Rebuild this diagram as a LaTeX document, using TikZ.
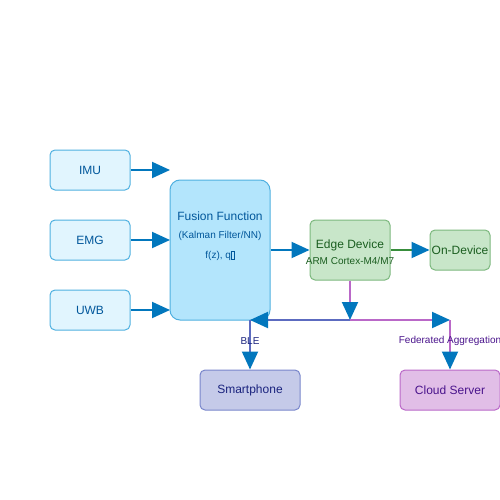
\documentclass[tikz,border=0pt]{standalone}
\usepackage{fontspec}
\setmainfont{Liberation Sans}
\usetikzlibrary{arrows.meta}
\definecolor{arrblue}{HTML}{0277BD}
\definecolor{inFill}{HTML}{E1F5FE}
\definecolor{inDraw}{HTML}{4FB0E0}
\definecolor{inText}{HTML}{01579B}
\definecolor{fuFill}{HTML}{B3E5FC}
\definecolor{edFill}{HTML}{C8E6C9}
\definecolor{edDraw}{HTML}{7CB87E}
\definecolor{edText}{HTML}{1B5E20}
\definecolor{grLine}{HTML}{388E3C}
\definecolor{spFill}{HTML}{C5CAE9}
\definecolor{spDraw}{HTML}{7986CB}
\definecolor{spText}{HTML}{1A237E}
\definecolor{blLine}{HTML}{5C6BC0}
\definecolor{clFill}{HTML}{E1BEE7}
\definecolor{clDraw}{HTML}{BA68C8}
\definecolor{clText}{HTML}{4A148C}
\definecolor{puLine}{HTML}{BA68C8}
\begin{document}
\begin{tikzpicture}[x=1pt,y=-1pt,
  box/.style={draw, rounded corners=5pt, line width=1pt, inner sep=0pt, align=center},
  inbox/.style={box, fill=inFill, draw=inDraw, text=inText, minimum width=80pt, minimum height=40pt, font=\fontsize{12}{14}\selectfont},
  conn/.style={line width=2pt, -{Triangle[length=18pt,width=16pt,color=arrblue]}},
  lbl/.style={font=\fontsize{10}{12}\selectfont, inner sep=0pt}
]
\useasboundingbox (0,0) rectangle (500,500);
\node[inbox] (imu) at (90,170) {IMU};
\node[inbox] (emg) at (90,240) {EMG};
\node[inbox] (uwb) at (90,310) {UWB};
\node[box, fill=fuFill, draw=inDraw, rounded corners=10pt, minimum width=100pt, minimum height=140pt] (fus) at (220,250) {};
\node[text=inText, font=\fontsize{12}{14}\selectfont] (fus1) at (220,216) {Fusion Function};
\node[text=inText, lbl] (fus2) at (220,236) {(Kalman Filter/NN)};
\node[text=inText, lbl] (fus3) at (220,256) {f(z), q{\setlength\fboxsep{0pt}\setlength\fboxrule{0.3pt}\fbox{\rule{0pt}{7pt}\hspace{3pt}}}};
\coordinate (a1) at (170,170);
\coordinate (a2) at (170,240);
\coordinate (a3) at (170,310);
\node[box, fill=edFill, draw=edDraw, minimum width=80pt, minimum height=60pt] (edge) at (350,250) {};
\node[text=edText, font=\fontsize{12}{14}\selectfont] (ed1) at (350,245) {Edge Device};
\node[text=edText, lbl] (ed2) at (350,261) {ARM Cortex-M4/M7};
\node[box, fill=edFill, draw=edDraw, text=edText, minimum width=60pt, minimum height=40pt, font=\fontsize{12}{14}\selectfont] (ond) at (460,250) {On-Device};
\node[box, fill=spFill, draw=spDraw, text=spText, minimum width=100pt, minimum height=40pt, font=\fontsize{12}{14}\selectfont] (sp) at (250,390) {Smartphone};
\node[box, fill=clFill, draw=clDraw, text=clText, minimum width=100pt, minimum height=40pt, font=\fontsize{12}{14}\selectfont] (cl) at (450,390) {Cloud Server};
\coordinate (j) at (350,320);
\coordinate (bl) at (250,320);
\coordinate (fr) at (450,320);
\draw[conn, arrblue] (imu.east) -- (a1);
\draw[conn, arrblue] (emg.east) -- (a2);
\draw[conn, arrblue] (uwb.east) -- (a3);
\draw[conn, arrblue] (fus.east) -- (edge.west);
\draw[conn, grLine] (edge.east) -- (ond.west);
\draw[conn, puLine] (edge.south) -- (j);
\draw[conn, blLine] (j) -- (bl);
\draw[conn, blLine] (bl) -- (sp.north);
\draw[conn, puLine] (j) -- (fr);
\draw[conn, puLine] (fr) -- (cl.north);
\node[lbl, text=spText] (ble) at (250,341) {BLE};
\node[lbl, text=clText] (fed) at (450,341) {Federated Aggregation};
\end{tikzpicture}
\end{document}
